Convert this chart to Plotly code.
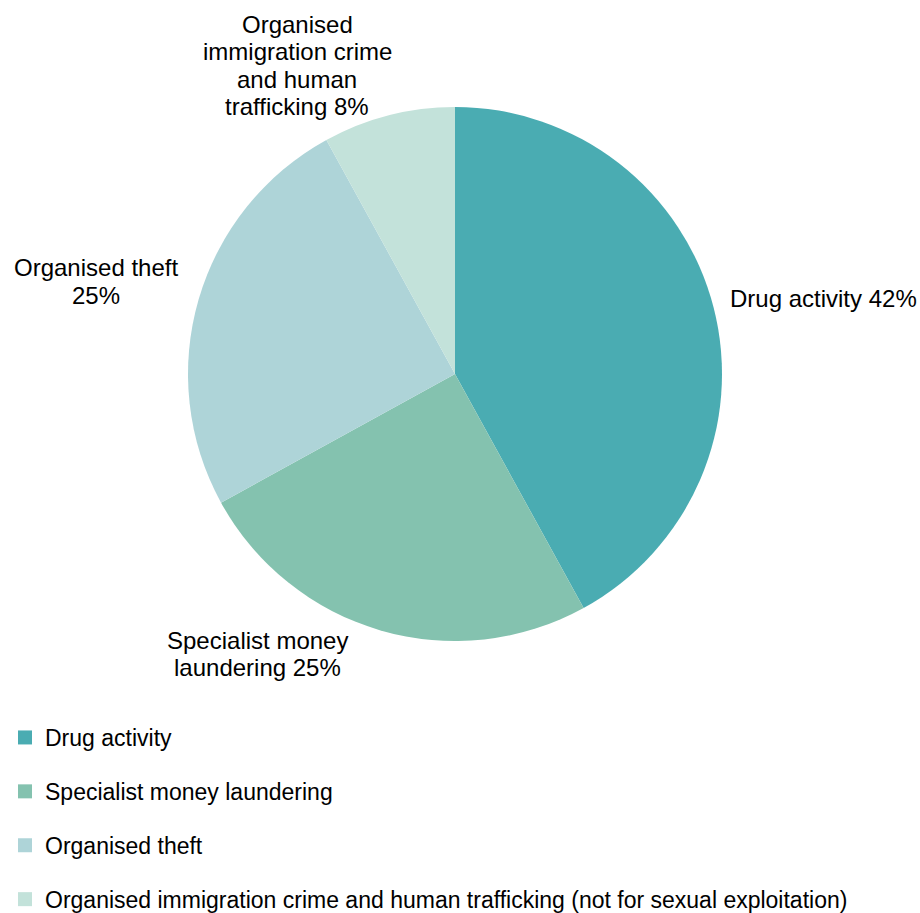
import plotly.graph_objects as go

# Share of organised crime groups by principal activity
categories = [
    "Drug activity",
    "Specialist money laundering",
    "Organised theft",
    "Organised immigration crime and human trafficking (not for sexual exploitation)",
]
values = [42, 25, 25, 8]
colors = ["#4AACB2", "#84C2AF", "#AED4D8", "#C3E2DA"]

# Slice label wording, split into lines; the value is appended to the last line
label_lines = [
    ["Drug activity"],
    ["Specialist money", "laundering"],
    ["Organised theft", ""],
    ["Organised", "immigration crime", "and human", "trafficking"],
]
# (x, y of first line centre, alignment) in pixels
label_pos = [(728, 298, "left"), (257, 640, "center"), (96, 268, "center"), (297, 24, "center")]
LINE_STEP = 27.5

W, H = 920, 913
FONT = "Liberation Sans, Arial, sans-serif"
FS = 24
cx, cy, r = 455, 374, 267

fig = go.Figure()
fig.add_trace(go.Pie(
    labels=categories,
    values=values,
    sort=False,
    direction="clockwise",
    rotation=0,
    marker=dict(colors=colors, line=dict(width=0)),
    textinfo="none",
    hoverinfo="label+percent",
    showlegend=False,
    domain=dict(x=[(cx - r) / W, (cx + r) / W], y=[1 - (cy + r) / H, 1 - (cy - r) / H]),
))

# Legend entries, one group each so the gap between rows can be set
for cat, col in zip(categories, colors):
    fig.add_trace(go.Scatter(
        x=[None], y=[None], mode="markers", name=cat, legendgroup=cat,
        marker=dict(symbol="square", size=14, color=col),
    ))

for lines, v, (x, y, align) in zip(label_lines, values, label_pos):
    texts = list(lines)
    texts[-1] = f"{texts[-1]} {v}%".strip()
    for i, t in enumerate(texts):
        fig.add_annotation(
            x=x / W, y=1 - (y + i * LINE_STEP) / H, xref="paper", yref="paper",
            text=t, showarrow=False,
            xanchor="left" if align == "left" else "center", yanchor="middle",
            font=dict(family=FONT, size=FS, color="#000000"),
        )

fig.update_layout(
    width=W, height=H,
    margin=dict(l=0, r=0, t=0, b=0, autoexpand=False),
    paper_bgcolor="white", plot_bgcolor="white",
    xaxis=dict(visible=False), yaxis=dict(visible=False),
    font=dict(family=FONT, size=FS, color="#000000"),
    legend=dict(
        x=5 / W, y=1 - 716 / H, xanchor="left", yanchor="top",
        traceorder="grouped", tracegroupgap=21, itemwidth=30,
        font=dict(family=FONT, size=23, color="#000000"),
        bgcolor="rgba(0,0,0,0)",
    ),
)

fig.write_html("out.html")
